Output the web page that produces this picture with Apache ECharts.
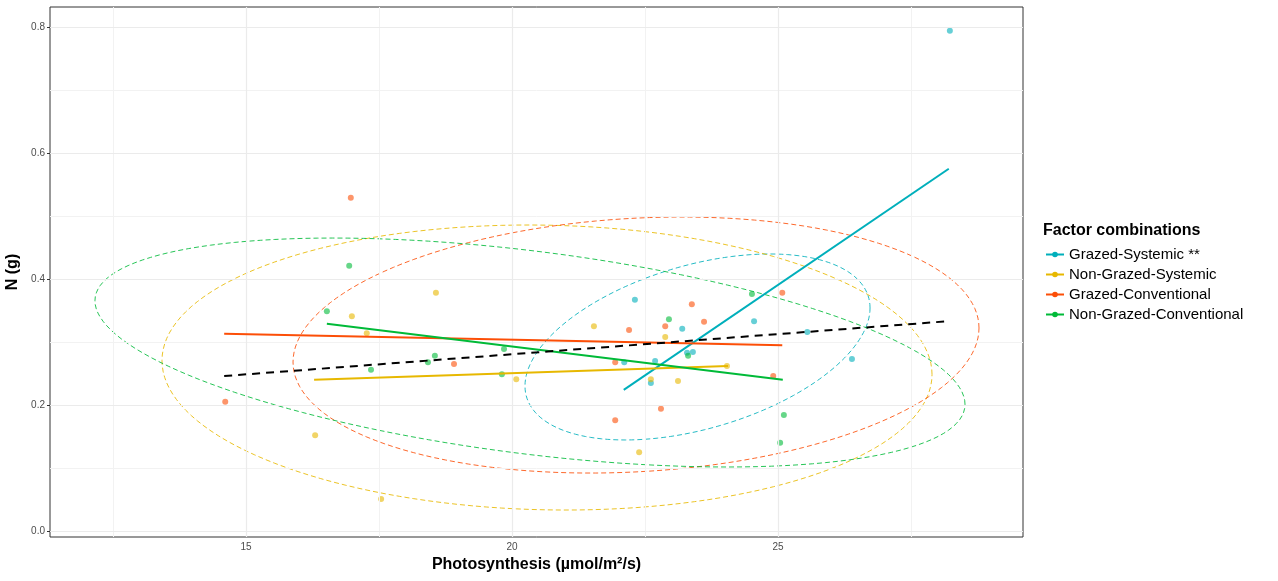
<!DOCTYPE html>
<html>
<head>
<meta charset="utf-8">
<script src="https://cdn.jsdelivr.net/npm/echarts@6/dist/echarts.min.js"></script>
<style>
html,body{margin:0;padding:0;background:#fff;}
#chart{width:1278px;height:581px;}
</style>
</head>
<body>
<div id="chart"></div>
<script>
// ---------- data ----------
const groups = ['Grazed-Systemic **', 'Non-Grazed-Systemic', 'Grazed-Conventional', 'Non-Grazed-Conventional'];
const colors = ['#00AFBB', '#E7B800', '#FC4E07', '#00BA38'];

// scatter points [photosynthesis, N]
const ptsGS = [[28.23,0.794],[22.31,0.367],[23.20,0.321],[24.55,0.333],[22.69,0.270],[22.11,0.268],[23.29,0.283],[23.40,0.284],[22.61,0.235],[26.39,0.273],[25.55,0.316]];
const ptsNGS = [[18.57,0.378],[16.99,0.341],[17.27,0.314],[16.30,0.152],[17.54,0.051],[21.54,0.325],[22.88,0.308],[20.08,0.241],[22.61,0.241],[23.12,0.238],[24.04,0.262],[22.39,0.125]];
const ptsGC = [[16.97,0.529],[14.61,0.205],[18.91,0.265],[22.20,0.319],[23.38,0.360],[22.88,0.325],[23.61,0.332],[21.94,0.268],[22.80,0.194],[21.94,0.176],[24.91,0.246],[25.08,0.378]];
const ptsNGC = [[16.94,0.421],[16.52,0.349],[18.55,0.278],[18.42,0.268],[17.35,0.256],[19.85,0.289],[19.81,0.249],[22.95,0.336],[23.31,0.278],[24.51,0.376],[25.11,0.184],[25.04,0.140]];
const points = [ptsGS, ptsNGS, ptsGC, ptsNGC];

// fitted regression lines (endpoints)
const fitGS = [[22.10,0.224],[28.21,0.575]];
const fitNGS = [[16.28,0.240],[24.06,0.262]];
const fitGC = [[14.59,0.313],[25.08,0.295]];
const fitNGC = [[16.52,0.329],[25.09,0.240]];
const fits = [fitGS, fitNGS, fitGC, fitNGC];
const fitAll = [[14.59,0.246],[28.20,0.333]];

// confidence ellipses: centre x, centre y, x half-extent, y half-extent, y-offset at rightmost point
const ellCX = [23.487, 20.658, 22.331, 20.338];
const ellCY = [0.2921, 0.2595, 0.2952, 0.2833];
const ellRX = [3.243, 7.237, 6.447, 8.177];
const ellRY = [0.1476, 0.2262, 0.2032, 0.1817];
const ellA2 = [0.0619, -0.011, 0.027, -0.0822];

// axes
const xMin = 11.316, xMax = 29.605, yMin = -0.0095, yMax = 0.8317;
const xTicks = [15, 20, 25];
const xMinor = [12.5, 17.5, 22.5, 27.5];
const yTicks = [0, 0.2, 0.4, 0.6, 0.8];
const yMinor = [0.1, 0.3, 0.5, 0.7];

// ---------- build ----------
function ellipse(i) {
  const b2 = Math.sqrt(ellRY[i] * ellRY[i] - ellA2[i] * ellA2[i]);
  const out = [];
  const N = 160;
  for (let k = 0; k <= N; k++) {
    const t = 2 * Math.PI * k / N;
    out.push([ellCX[i] + ellRX[i] * Math.cos(t), ellCY[i] + ellA2[i] * Math.cos(t) + b2 * Math.sin(t)]);
  }
  return out;
}

const series = [];
// gridlines
series.push({
  type: 'line', data: [], silent: true, z: 1, name: '_grid',
  markLine: {
    silent: true, symbol: 'none', label: {show: false}, animation: false,
    data: [
      ...xMinor.map(v => ({xAxis: v, lineStyle: {color: '#F2F2F2', width: 1, type: 'solid'}})),
      ...yMinor.map(v => ({yAxis: v, lineStyle: {color: '#F2F2F2', width: 1, type: 'solid'}})),
      ...xTicks.map(v => ({xAxis: v, lineStyle: {color: '#EBEBEB', width: 1.2, type: 'solid'}})),
      ...yTicks.map(v => ({yAxis: v, lineStyle: {color: '#EBEBEB', width: 1.2, type: 'solid'}}))
    ]
  }
});

groups.forEach((g, i) => {
  series.push({
    name: g, type: 'line', data: fits[i], symbol: 'circle', symbolSize: 5, showSymbol: false,
    lineStyle: {color: colors[i], width: 2}, itemStyle: {color: colors[i]}, z: 5, animation: false
  });
});
groups.forEach((g, i) => {
  series.push({
    name: g, type: 'scatter', data: points[i], symbolSize: 6,
    itemStyle: {color: colors[i], opacity: 0.6}, z: 3, animation: false
  });
  series.push({
    name: g + '_ell', type: 'line', data: ellipse(i), symbol: 'none', smooth: false,
    lineStyle: {color: colors[i], width: 1, type: [5, 3], opacity: 0.85}, z: 4, animation: false
  });
});
series.push({
  name: '_all', type: 'line', data: fitAll, symbol: 'none',
  lineStyle: {color: '#000000', width: 2, type: [8, 6]}, z: 6, animation: false
});

const option = {
  backgroundColor: '#ffffff',
  animation: false,
  textStyle: {fontFamily: 'Liberation Sans, Arial, sans-serif'},
  grid: {left: 50, right: 255, top: 7, bottom: 44, containLabel: false, outerBoundsMode: 'none',
         show: true, borderColor: '#333333', borderWidth: 1, backgroundColor: '#ffffff'},
  title: {
    text: 'Factor combinations', left: 1038, top: 218,
    textStyle: {fontSize: 16, fontWeight: 'bold', color: '#000', fontFamily: 'Liberation Sans, Arial, sans-serif'}
  },
  legend: {
    data: groups, orient: 'vertical', left: 1040, top: 242, itemWidth: 18, itemHeight: 7, itemGap: 5,
    textStyle: {fontSize: 15, color: '#000', fontFamily: 'Liberation Sans, Arial, sans-serif'},
    selectedMode: false
  },
  xAxis: {
    type: 'value', min: xMin, max: xMax,
    name: 'Photosynthesis (µmol/m²/s)', nameLocation: 'middle', nameGap: 20,
    nameTextStyle: {fontSize: 16, fontWeight: 'bold', color: '#000'},
    axisLine: {show: false},
    axisTick: {show: true, customValues: xTicks, length: 3, lineStyle: {color: '#333333'}},
    axisLabel: {customValues: xTicks, color: '#4D4D4D', fontSize: 10, margin: 5},
    splitLine: {show: false}
  },
  yAxis: {
    type: 'value', min: yMin, max: yMax,
    name: 'N (g)', nameLocation: 'middle', nameGap: 25, nameRotate: 90,
    nameTextStyle: {fontSize: 16, fontWeight: 'bold', color: '#000'},
    axisLine: {show: false},
    axisTick: {show: true, customValues: yTicks, length: 3, lineStyle: {color: '#333333'}},
    axisLabel: {customValues: yTicks, color: '#4D4D4D', fontSize: 10, margin: 5, formatter: v => v.toFixed(1)},
    splitLine: {show: false}
  },
  series: series
};

const chart = echarts.init(document.getElementById('chart'), null, {renderer: 'canvas'});
chart.setOption(option);
</script>
</body>
</html>
